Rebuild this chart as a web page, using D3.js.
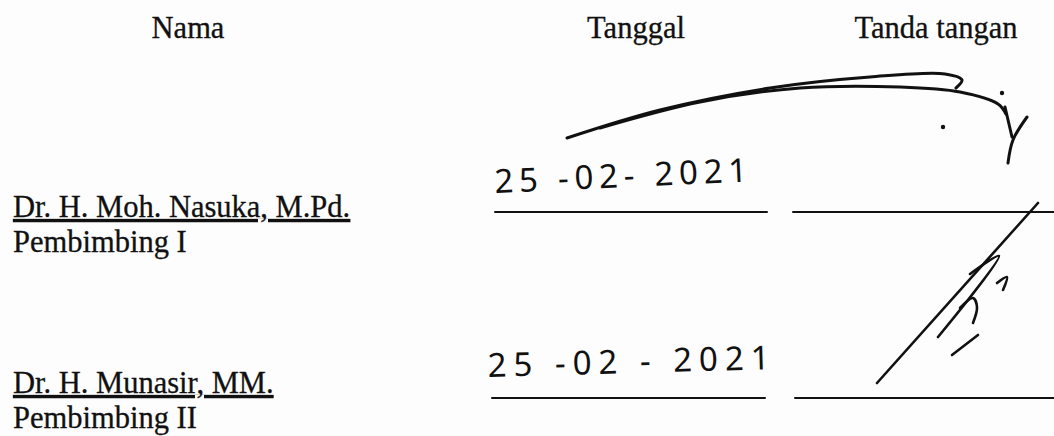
<!DOCTYPE html>
<html>

<head>
  <meta charset="utf-8">
  <title>Lembar Pengesahan</title>
  <script src="https://d3js.org/d3.v7.min.js"></script>
  <style>
    body {
      margin: 0;
      background: #fdfdfd;
    }

    .print {
      font-family: "Liberation Serif", "Times New Roman", serif;
      font-size: 30.5px;
      fill: #111;
      stroke: #111;
      stroke-width: 0.3px;
    }

    .hand {
      font-family: "Noto Sans", sans-serif;
      font-size: 33px;
      fill: #111;
    }

    .ink {
      fill: none;
      stroke: #111;
      stroke-linecap: round;
      stroke-linejoin: round;
    }
  </style>
</head>

<body>
  <svg id="sheet"></svg>
  <script>
    // table contents
    const headers = ["Nama", "Tanggal", "Tanda tangan"]
    const names = ["Dr. H. Moh. Nasuka, M.Pd.", "Dr. H. Munasir, MM."]
    const roles = ["Pembimbing I", "Pembimbing II"]
    const dates = ["25 -02- 2021", "25 -02 - 2021"]

    // signature strokes, one list of points per stroke (row 0 and row 1)
    const sign1 = [
      [[567, 138], [660, 110], [770, 88], [870, 77], [945, 74], [962, 80], [956, 88]],
      [[600, 128], [700, 102], [800, 88], [900, 87], [960, 92], [998, 104], [1006, 114]],
      [[1005, 107], [1012, 137]],
      [[1027, 117], [1013, 140], [1008, 163]]
    ]
    const sign1Dots = [[1002, 93], [943, 127]]
    const sign2 = [
      [[877, 383], [1038, 203]],
      [[938, 337], [999, 256], [970, 274]],
      [[960, 308], [973, 298], [977, 307], [973, 323]],
      [[997, 283], [1007, 277], [1003, 290]],
      [[952, 355], [978, 335]]
    ]

    const W = 1054, H = 436
    const svg = d3.select("#sheet").attr("width", W).attr("height", H)

    // layout
    const colX = d3.scaleOrdinal().domain(headers).range([188, 636, 936])
    const rowY = d3.scaleOrdinal().domain([0, 1]).range([212, 398])  // y of the blank lines
    const nameY = [217, 393]
    const dateX = [495, 488]
    const dateY = [193, 377]
    const dateLen = [253, 282]
    const dateTilt = [-2.6, -1.6]

    svg.selectAll(".head")
      .data(headers)
      .enter()
      .append("text")
      .attr("class", "print")
      .attr("x", d => colX(d))
      .attr("y", 38)
      .attr("text-anchor", "middle")
      .text(d => d)

    const rows = svg.selectAll(".row")
      .data(names)
      .enter()
      .append("g")

    rows.append("text")
      .attr("class", "print")
      .attr("x", 13)
      .attr("y", (d, i) => nameY[i])
      .attr("text-decoration", "underline")
      .text(d => d)

    rows.append("text")
      .attr("class", "print")
      .attr("x", 13)
      .attr("y", (d, i) => nameY[i] + 35)
      .text((d, i) => roles[i])

    // blank lines for date and signature
    rows.append("line")
      .attr("class", "ink")
      .attr("x1", (d, i) => [495, 492][i])
      .attr("x2", (d, i) => [767, 765][i])
      .attr("y1", (d, i) => rowY(i))
      .attr("y2", (d, i) => rowY(i))
      .attr("stroke-width", 2)

    rows.append("line")
      .attr("class", "ink")
      .attr("x1", (d, i) => [793, 795][i])
      .attr("x2", W)
      .attr("y1", (d, i) => rowY(i))
      .attr("y2", (d, i) => rowY(i))
      .attr("stroke-width", 2)

    rows.append("text")
      .attr("class", "hand")
      .attr("x", (d, i) => dateX[i])
      .attr("y", (d, i) => dateY[i])
      .attr("textLength", (d, i) => dateLen[i])
      .attr("lengthAdjust", "spacing")
      .attr("transform", (d, i) => `rotate(${dateTilt[i]},${dateX[i]},${dateY[i]})`)
      .text((d, i) => dates[i])

    const pen = d3.line().curve(d3.curveCatmullRom.alpha(0.5))

    svg.selectAll(".s1")
      .data(sign1)
      .enter()
      .append("path")
      .attr("class", "ink")
      .attr("stroke-width", 3)
      .attr("d", pen)

    svg.selectAll(".dot")
      .data(sign1Dots)
      .enter()
      .append("circle")
      .attr("cx", d => d[0])
      .attr("cy", d => d[1])
      .attr("r", 2.2)
      .attr("fill", "#111")

    svg.selectAll(".s2")
      .data(sign2)
      .enter()
      .append("path")
      .attr("class", "ink")
      .attr("stroke-width", 2.6)
      .attr("d", pen)
  </script>
</body>

</html>
